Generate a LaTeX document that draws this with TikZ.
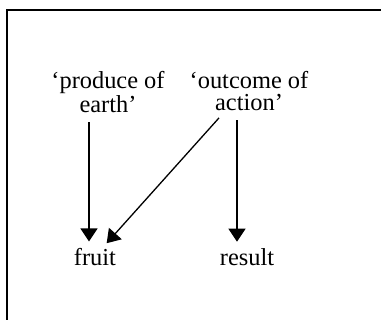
\documentclass[tikz,border=0pt]{standalone}
\usepackage{fontspec}
\setmainfont{Liberation Serif}
\usetikzlibrary{arrows.meta,positioning}
\tikzset{
 gloss/.style={align=center,inner sep=0pt,font=\fontsize{12.2}{11}\selectfont},
 word/.style={gloss},
 arr/.style={-{Triangle[width=8.5pt,length=6.5pt]},line width=0.65pt,shorten <=4.5pt,shorten >=3.5pt},
 frame/.style={line width=0.8pt}
}
\begin{document}
\begin{tikzpicture}[x=0.5pt,y=-0.5pt]
\useasboundingbox (0,0) rectangle (381,320);
\draw[frame] (381,10) -- (7,10) -- (7,320);
\node[gloss,anchor=north] (produce) at (108,71) {‘produce of\\earth’};
\node[gloss,anchor=north] (outcome) at (249,71) {‘outcome of\\action’};
\node[word,anchor=base] (fruit) at (95,266) {fruit};
\node[word,anchor=base] (result) at (247,266) {result};
\draw[arr] ([xshift=-9.5pt]produce.south) -- ([xshift=-3pt]fruit.north);
\draw[arr] ([xshift=-12pt]outcome.south) -- ([xshift=3.5pt]fruit.north);
\draw[arr] ([xshift=-6pt]outcome.south) -- ([xshift=-5pt]result.north);
\end{tikzpicture}
\end{document}
